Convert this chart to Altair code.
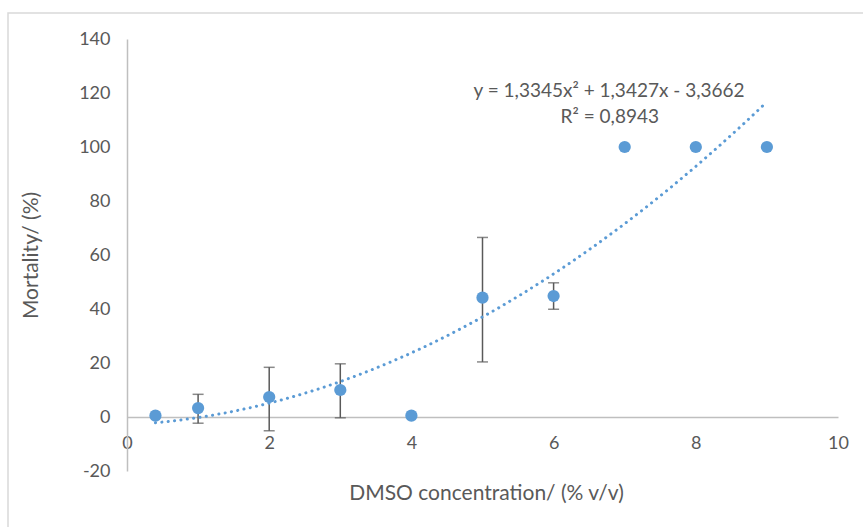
import altair as alt
import pandas as pd

conc = [0.4, 1, 2, 3, 4, 5, 6, 7, 8, 9]
mort = [0.5, 3.3, 7.4, 10.0, 0.5, 44.2, 44.8, 100.0, 100.0, 100.0]
err_x = [1, 2, 3, 5, 6]
err_lo = [-2.3, -5.1, -0.3, 20.4, 39.9]
err_hi = [8.4, 18.4, 19.7, 66.5, 49.7]

eq_text = ["y = 1,3345x² + 1,3427x - 3,3662", "R² = 0,8943"]
eq_x = [6.78, 6.79]
eq_y = [120.7, 111.2]

FONT = "Lato"
GRAY = "#595959"
BLUE = "#5B9BD5"

df = pd.DataFrame({"x": conc, "y": mort})
err = pd.DataFrame({"x": err_x, "lo": err_lo, "hi": err_hi})
ann = pd.DataFrame({"x": eq_x, "y": eq_y, "t": eq_text})

xs = alt.Scale(domain=[0, 10], nice=False)
ys = alt.Scale(domain=[-20, 140], nice=False)

xaxis = alt.Axis(values=[0, 2, 4, 6, 8, 10], offset=-54, ticks=False, grid=False,
                 domainColor="#BFBFBF", domainWidth=1.5, labelPadding=17,
                 labelFlush=False, labelExpr="datum.value + ''",
                 labelFontSize=18, labelColor=GRAY, labelFont=FONT,
                 title="DMSO concentration/ (% v/v)", titleFontSize=21,
                 titleFont=FONT, titleColor=GRAY, titleFontWeight="normal",
                 titleX=359, titleY=76, titleBaseline="middle")
yaxis = alt.Axis(values=list(range(-20, 141, 20)), ticks=False, grid=False,
                 domainColor="#BFBFBF", domainWidth=1.5, labelPadding=17,
                 labelFlush=False, labelExpr="datum.value + ''",
                 labelFontSize=18, labelColor=GRAY, labelFont=FONT,
                 title="Mortality/ (%)", titleFontSize=21, titleFont=FONT,
                 titleColor=GRAY, titleFontWeight="normal",
                 titleX=-96, titleY=216, titleBaseline="middle")

border = alt.Chart(pd.DataFrame({"a": [0]})).mark_rect(
    fill=None, stroke="#D9D9D9", strokeWidth=1.5
).encode(x=alt.value(-119), x2=alt.value(900), y=alt.value(-26), y2=alt.value(600))

base = alt.Chart(df)

pts = base.mark_point(filled=True, size=150, opacity=1, color=BLUE).encode(
    x=alt.X("x:Q", scale=xs, axis=xaxis),
    y=alt.Y("y:Q", scale=ys, axis=yaxis),
)

trend = base.transform_regression("x", "y", method="poly", order=2).mark_line(
    color=BLUE, strokeWidth=3, strokeDash=[0.1, 6.3], strokeCap="round"
).encode(x=alt.X("x:Q", scale=xs), y=alt.Y("y:Q", scale=ys))

ebar = alt.Chart(err).mark_rule(color=GRAY, strokeWidth=1.5).encode(
    x=alt.X("x:Q", scale=xs), y=alt.Y("lo:Q", scale=ys), y2="hi:Q")
cap_lo = alt.Chart(err).mark_tick(color=GRAY, thickness=1.5, size=11, orient="horizontal").encode(
    x=alt.X("x:Q", scale=xs), y=alt.Y("lo:Q", scale=ys))
cap_hi = alt.Chart(err).mark_tick(color=GRAY, thickness=1.5, size=11, orient="horizontal").encode(
    x=alt.X("x:Q", scale=xs), y=alt.Y("hi:Q", scale=ys))

txt = alt.Chart(ann).mark_text(font=FONT, fontSize=19, color=GRAY, align="center",
                               baseline="middle").encode(
    x=alt.X("x:Q", scale=xs), y=alt.Y("y:Q", scale=ys), text="t:N")

chart = alt.layer(border, ebar, cap_lo, cap_hi, trend, pts, txt).properties(
    width=711, height=432,
    autosize=alt.AutoSizeParams(type="none"),
    padding={"left": 127, "top": 39, "right": 25, "bottom": 56},
    background="white",
).configure_view(stroke=None)

chart.save("out.html", embed_options={"renderer": "svg", "actions": False})
